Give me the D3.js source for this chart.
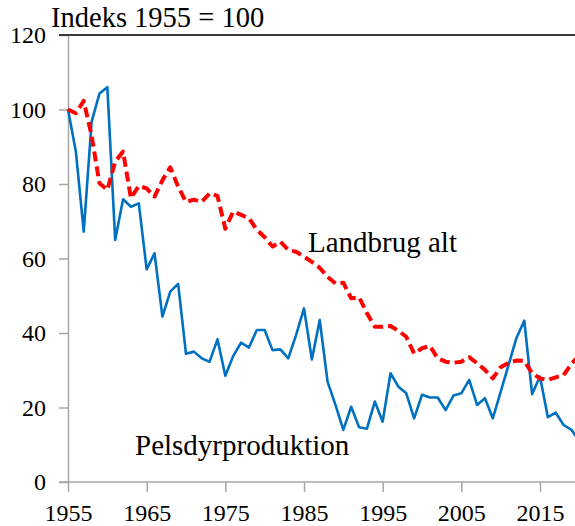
<!DOCTYPE html>
<html>
<head>
<meta charset="utf-8">
<script src="https://d3js.org/d3.v7.min.js"></script>
<style>
    body { margin: 0; background: #fff; }
    svg text { font-family: "Liberation Serif", "Times New Roman", Times, "DejaVu Serif", serif; }
</style>
</head>
<body>
<script>
const [W, H] = [575, 526];
const SERIF = '"Liberation Serif", "Times New Roman", Times, "DejaVu Serif", serif';

const years = [1955, 1956, 1957, 1958, 1959, 1960, 1961, 1962, 1963, 1964,
    1965, 1966, 1967, 1968, 1969, 1970, 1971, 1972, 1973, 1974,
    1975, 1976, 1977, 1978, 1979, 1980, 1981, 1982, 1983, 1984,
    1985, 1986, 1987, 1988, 1989, 1990, 1991, 1992, 1993, 1994,
    1995, 1996, 1997, 1998, 1999, 2000, 2001, 2002, 2003, 2004,
    2005, 2006, 2007, 2008, 2009, 2010, 2011, 2012, 2013, 2014,
    2015, 2016, 2017, 2018, 2019, 2020];

// Pelsdyrproduktion (index 1955 = 100)
const pelsdyr = [100, 88.7, 67.2, 96.7, 104.3, 106, 65, 75.9, 73.9, 74.8,
    57.1, 61.4, 44.4, 51.1, 53.2, 34.4, 35, 33.2, 32.3, 38.3,
    28.5, 33.8, 37.4, 36.1, 40.8, 40.8, 35.4, 35.6, 33.2, 39.5,
    46.6, 32.9, 43.5, 26.9, 20.7, 14, 20.2, 14.7, 14.3, 21.6,
    16.2, 29.2, 25.6, 23.8, 17.1, 23.4, 22.7, 22.7, 19.3, 23.2,
    23.8, 27.4, 20.7, 22.5, 17.1, 24.2, 31.4, 38.6, 43.3, 23.6,
    28.3, 17.4, 18.6, 15.3, 14, 11];

// Landbrug alt (index 1955 = 100)
const landbrug = [100, 99, 102.3, 93, 80.2, 78.4, 86, 88.7, 76.2, 79.5,
    78.8, 76.6, 81, 84.5, 79.3, 75.2, 75.8, 75.2, 77.5, 76.8,
    68, 72.6, 71.7, 70.8, 67.7, 65.7, 63.2, 64.5, 62.3, 61.8,
    60.5, 59.1, 57.5, 55.1, 53.3, 53.5, 49.3, 49.6, 45.3, 41.7,
    41.7, 41.9, 40.6, 39, 34.5, 35.9, 36.5, 33.2, 32.3, 32,
    32.3, 33.5, 31.9, 30.1, 27.8, 30.8, 32, 32.6, 32.5, 29.2,
    27.8, 27.4, 28.1, 28.7, 31.7, 34];

const yTicks = [0, 20, 40, 60, 80, 100, 120];
const xTicks = [1955, 1965, 1975, 1985, 1995, 2005, 2015];

function main() {
    const svg = d3.select('body').append('svg')
        .attr('width', W).attr('height', H);

    // scales
    const xScale = d3.scaleLinear()
        .domain([1955, 2019.45])
        .range([68, W]);

    const yScale = d3.scaleLinear()
        .domain([0, 120])
        .range([482, 35]);

    // axes
    const xAxis = d3.axisBottom(xScale)
        .tickValues(xTicks)
        .tickFormat(d => '' + d)
        .tickSize(10)
        .tickSizeOuter(0)
        .tickPadding(12);

    const yAxis = d3.axisLeft(yScale)
        .tickValues(yTicks)
        .tickSize(9)
        .tickSizeOuter(0)
        .tickPadding(13);

    const gx = svg.append('g')
        .attr('transform', 'translate(0,' + yScale(0) + ')')
        .call(xAxis);

    const gy = svg.append('g')
        .attr('transform', 'translate(' + xScale(1955) + ',0)')
        .call(yAxis);

    [gx, gy].forEach(g => {
        g.attr('font-family', null).attr('font-size', null);
        g.select('.domain').attr('stroke', '#a6a6a6').attr('stroke-width', 1.5);
        g.selectAll('.tick line').attr('stroke', '#a6a6a6').attr('stroke-width', 1.5);
        g.selectAll('.tick text')
            .attr('fill', '#000')
            .style('font-family', SERIF)
            .style('font-size', '24px');
    });
    // extend bottom axis to meet left tick
    gx.select('.domain').attr('d', 'M' + (xScale(1955) - 9) + ',0H' + W);
    gx.selectAll('.tick text').attr('dy', '0.71em');

    // top line at 120
    svg.append('line')
        .attr('x1', xScale(1955) - 9).attr('x2', W)
        .attr('y1', yScale(120)).attr('y2', yScale(120))
        .attr('stroke', '#3a3a3a')
        .attr('stroke-width', 1.8);

    // clip for series
    svg.append('clipPath').attr('id', 'plot-clip')
        .append('rect')
        .attr('x', xScale(1955) - 2).attr('y', 0)
        .attr('width', W).attr('height', yScale(0));

    const line = values => d3.line()
        .x((d, i) => xScale(years[i]))
        .y(d => yScale(d))(values);

    const series = svg.append('g').attr('clip-path', 'url(#plot-clip)');

    series.append('path')
        .attr('d', line(pelsdyr))
        .attr('fill', 'none')
        .attr('stroke', '#0070c0')
        .attr('stroke-width', 2.6)
        .attr('stroke-linejoin', 'round');

    series.append('path')
        .attr('d', line(landbrug))
        .attr('fill', 'none')
        .attr('stroke', '#ff0000')
        .attr('stroke-width', 4)
        .attr('stroke-dasharray', '10,5')
        .attr('stroke-linejoin', 'round');

    // texts
    svg.append('text')
        .attr('x', 51).attr('y', 27)
        .style('font-family', SERIF)
        .style('font-size', '28.5px')
        .text('Indeks 1955 = 100');

    svg.append('text')
        .attr('x', 308).attr('y', 252)
        .style('font-family', SERIF)
        .style('font-size', '29px')
        .text('Landbrug alt');

    svg.append('text')
        .attr('x', 135).attr('y', 455)
        .style('font-family', SERIF)
        .style('font-size', '29px')
        .text('Pelsdyrproduktion');
}

document.addEventListener('DOMContentLoaded', main);
</script>
</body>
</html>
